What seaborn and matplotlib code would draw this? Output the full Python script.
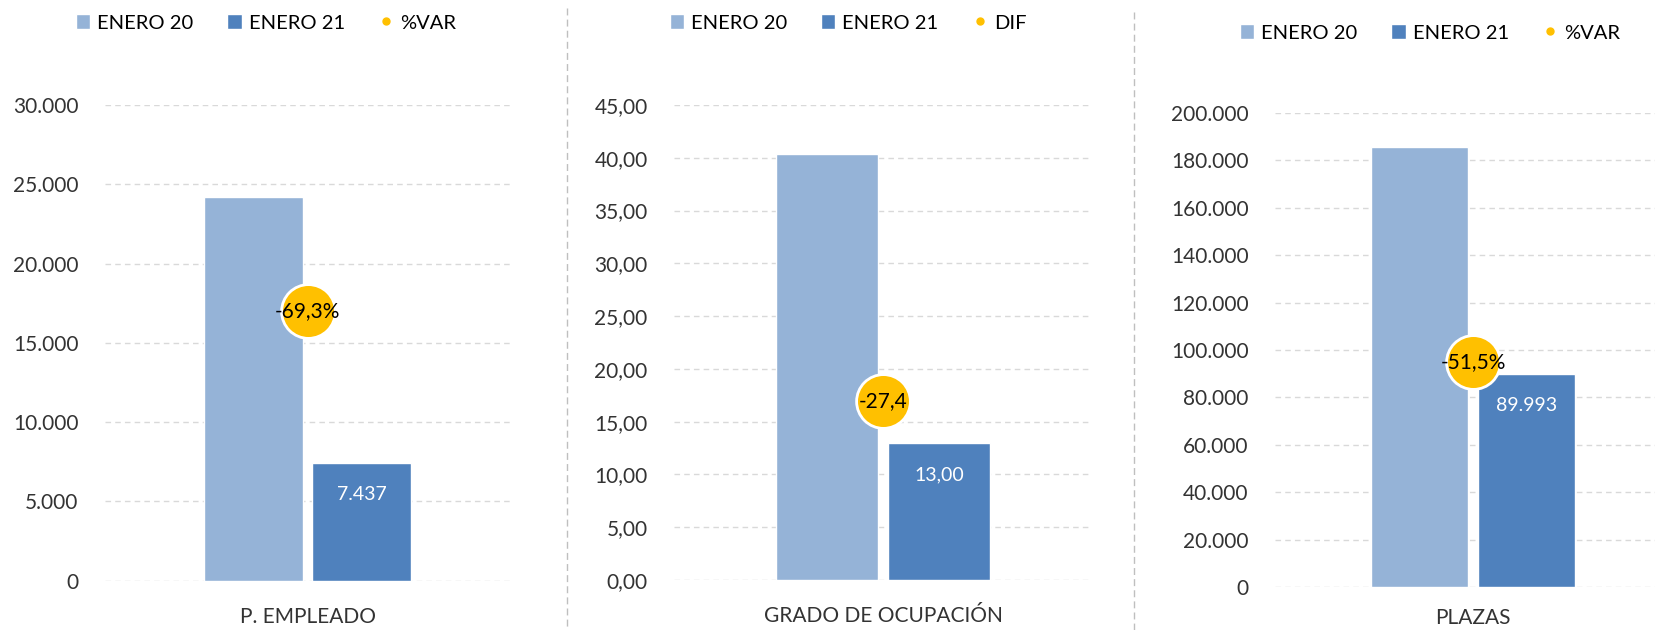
import numpy as np
import pandas as pd
import matplotlib.pyplot as plt
import seaborn as sns
from matplotlib.patches import Patch
from matplotlib.lines import Line2D
from matplotlib.ticker import FuncFormatter, MultipleLocator

sns.set_theme(style="white")
plt.rcParams['font.family'] = ['Lato', 'DejaVu Sans']

# Data
categories = ['P. EMPLEADO', 'GRADO DE OCUPACIÓN', 'PLAZAS']
series = ['ENERO 20', 'ENERO 21']
enero_20 = [24225, 40.40, 185553]
enero_21 = [7437, 13.00, 89993]
variacion = [-69.3, -27.4, -51.5]
var_labels = ['-69,3%', '-27,4', '-51,5%']
var_names = ['%VAR', 'DIF', '%VAR']
bar_labels = ['7.437', '13,00', '89.993']
y_max = [30000, 45, 200000]
y_step = [5000, 5, 20000]
decimals = [0, 2, 0]

# colours
c20 = '#95B3D7'
c21 = '#4F81BD'
c_var = '#FFC000'

# layout (figure fractions)
W, H = 1655, 630
positions = [
    [105 / W, (H - 580.8) / H, 405 / W, 475.8 / H],
    [674 / W, (H - 580) / H, 418 / W, 475 / H],
    [1275 / W, (H - 587) / H, 396 / W, 474 / H],
]
var_lims = [(-160, 0), (-44, 0), (-98, 0)]
legend_pos = [(266 / W, 1 - 23 / H), (848 / W, 1 - 23 / H), (1430 / W, 1 - 33 / H)]
xlabel_pad = [19, 19, 15]


def fmt_es(dec):
    def f(v, pos):
        s = f"{v:,.{dec}f}"
        return s.replace(',', 'X').replace('.', ',').replace('X', '.')
    return f


fig = plt.figure(figsize=(W / 100, H / 100), dpi=100)

for i in range(3):
    ax = fig.add_axes(positions[i])
    df = pd.DataFrame({'cat': [categories[i]] * 2,
                       'serie': series,
                       'valor': [enero_20[i], enero_21[i]]})
    sns.barplot(data=df, x='cat', y='valor', hue='serie',
                palette=[c20, c21], width=0.537, gap=0.09,
                saturation=1, legend=False, ax=ax)
    ax.set_xlim(-0.5, 0.5)
    ax.set_ylim(0, y_max[i])
    ax.yaxis.set_major_locator(MultipleLocator(y_step[i]))
    ax.yaxis.set_major_formatter(FuncFormatter(fmt_es(decimals[i])))
    ax.grid(axis='y', color='#D9D9D9', linestyle=(0, (4, 3)), linewidth=1)
    ax.grid(axis='x', visible=False)
    ax.set_axisbelow(True)
    for sp in ax.spines.values():
        sp.set_visible(False)
    ax.tick_params(axis='y', length=0, labelsize=15, colors='#333333', pad=19)
    ax.tick_params(axis='x', length=0, labelsize=15, colors='#333333',
                   pad=xlabel_pad[i])
    ax.set_xlabel('')
    ax.set_ylabel('')

    # value label inside the ENERO 21 bar
    bar = ax.containers[1][0]
    ax.annotate(bar_labels[i],
                xy=(bar.get_x() + bar.get_width() / 2, bar.get_height()),
                xytext=(0, -23), textcoords='offset points',
                ha='center', va='center', color='white', fontsize=14)

    # variation marker on a secondary axis
    ax2 = ax.twinx()
    ax2.scatter([0], [variacion[i]], s=1500, color=c_var,
                edgecolor='white', linewidth=2, zorder=3)
    ax2.text(0, variacion[i], var_labels[i], ha='center', va='center',
             fontsize=15, color='black', zorder=4)
    ax2.set_ylim(*var_lims[i])
    ax2.axis('off')

    handles = [Patch(facecolor=c20), Patch(facecolor=c21),
               Line2D([], [], marker='o', ls='', color=c_var, markersize=5)]
    fig.legend(handles, series + [var_names[i]], loc='center',
               bbox_to_anchor=legend_pos[i], ncol=3, frameon=False,
               fontsize=14.5, labelcolor='black', handlelength=0.7,
               handleheight=0.7, handletextpad=0.35, columnspacing=1.7)

# dashed separators between panels
for x, top in [(567, 8), (1134, 12)]:
    fig.add_artist(Line2D([x / W, x / W], [1 - top / H, 0],
                          transform=fig.transFigure, color='#BFBFBF',
                          linestyle=(0, (5, 3)), linewidth=1))

fig.savefig('out.png', dpi=100)
